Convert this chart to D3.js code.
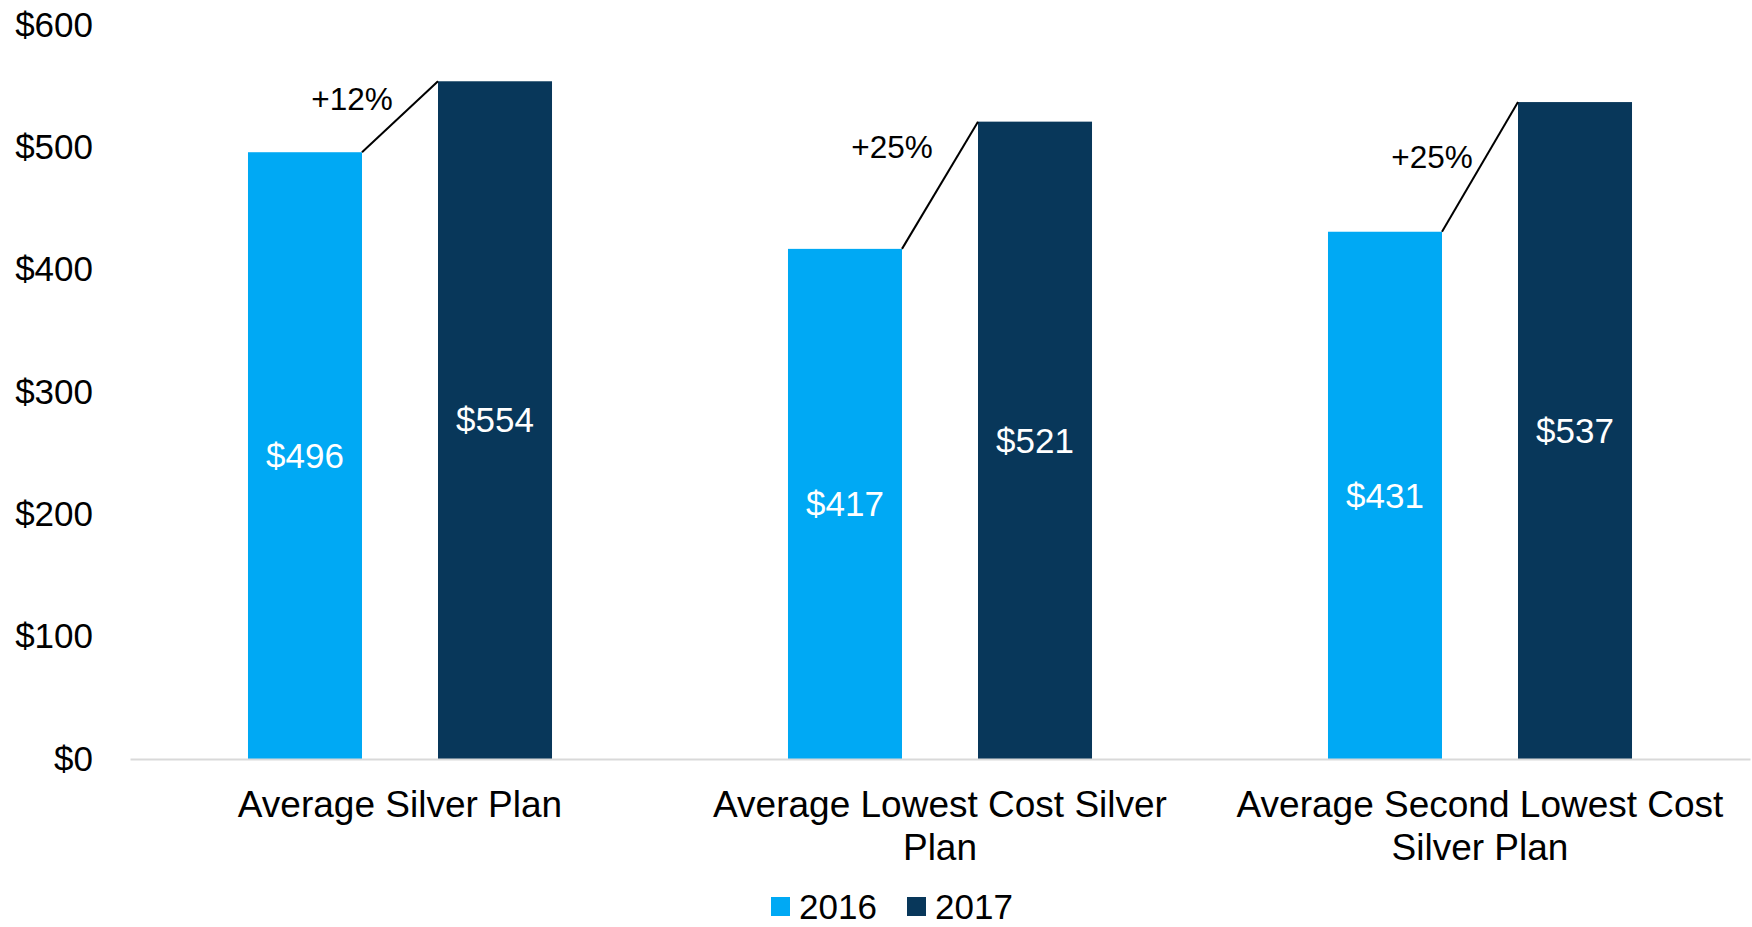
<!DOCTYPE html>
<html>
<head>
<meta charset="utf-8">
<script src="https://cdn.jsdelivr.net/npm/d3@7"></script>
<style>
  html, body { margin: 0; padding: 0; background: #ffffff; }
  svg { display: block; font-family: "Liberation Sans", Arial, sans-serif; }
</style>
</head>
<body>
<svg id="chart" width="1752" height="927"></svg>
<script>
// Monthly silver plan premiums, 2016 vs 2017
const categories = [
  "Average Silver Plan",
  "Average Lowest Cost Silver Plan",
  "Average Second Lowest Cost Silver Plan"
];
const seriesNames = ["2016", "2017"];
const values2016 = [496, 417, 431];
const values2017 = [554, 521, 537];
const changeLabels = ["+12%", "+25%", "+25%"];
const yTicks = [0, 100, 200, 300, 400, 500, 600];

const colors = { "2016": "#00a9f4", "2017": "#08375a" };
// vertical nudge of each change label relative to its connector midpoint
const changeLabelDy = [-18, -38, -10];

const width = 1752, height = 927;
const margin = { top: 25, right: 2, bottom: 168, left: 130 };
const svg = d3.select("#chart");

const rows = categories.map((c, i) => ({
  category: c,
  values: [
    { series: "2016", value: values2016[i] },
    { series: "2017", value: values2017[i] }
  ],
  change: changeLabels[i],
  dy: changeLabelDy[i]
}));

const x0 = d3.scaleBand()
  .domain(categories)
  .range([margin.left, width - margin.right])
  .paddingInner(0.437)
  .paddingOuter(0.2185);

const x1 = d3.scaleBand()
  .domain(seriesNames)
  .range([0, x0.bandwidth()])
  .paddingInner(0.4)
  .paddingOuter(0);

const y = d3.scaleLinear()
  .domain([0, 600])
  .range([height - margin.bottom, margin.top]);

// y axis labels
const yAxis = d3.axisLeft(y)
  .tickValues(yTicks)
  .tickFormat(d => "$" + d)
  .tickSize(0)
  .tickPadding(37);

svg.append("g")
  .attr("transform", `translate(${margin.left},0)`)
  .call(yAxis)
  .call(g => g.select(".domain").remove())
  .call(g => g.selectAll("text")
    .attr("font-size", 35)
    .attr("font-family", "Liberation Sans, Arial, sans-serif")
    .attr("fill", "#000"));

// bars
const groups = svg.append("g")
  .selectAll("g")
  .data(rows)
  .join("g")
  .attr("transform", d => `translate(${x0(d.category)},0)`);

groups.selectAll("rect")
  .data(d => d.values)
  .join("rect")
  .attr("x", d => x1(d.series))
  .attr("y", d => y(d.value))
  .attr("width", x1.bandwidth())
  .attr("height", d => y(0) - y(d.value))
  .attr("fill", d => colors[d.series]);

// value labels centred in each bar
groups.selectAll("text.value")
  .data(d => d.values)
  .join("text")
  .attr("class", "value")
  .attr("x", d => x1(d.series) + x1.bandwidth() / 2)
  .attr("y", d => (y(d.value) + y(0)) / 2)
  .attr("dy", "0.35em")
  .attr("text-anchor", "middle")
  .attr("font-size", 35)
  .attr("fill", "#ffffff")
  .text(d => "$" + d.value);

// connector between bar tops with percentage change
groups.append("line")
  .attr("x1", x1("2016") + x1.bandwidth())
  .attr("y1", d => y(d.values[0].value))
  .attr("x2", x1("2017"))
  .attr("y2", d => y(d.values[1].value))
  .attr("stroke", "#000")
  .attr("stroke-width", 2);

groups.append("text")
  .attr("x", (x1("2016") + x1.bandwidth() + x1("2017")) / 2 - 48)
  .attr("y", d => (y(d.values[0].value) + y(d.values[1].value)) / 2 + d.dy)
  .attr("dy", "0.35em")
  .attr("text-anchor", "middle")
  .attr("font-size", 31.5)
  .attr("fill", "#000")
  .text(d => d.change);

// baseline
const xAxis = d3.axisBottom(x0).tickSize(0).tickFormat("");
svg.append("g")
  .attr("transform", `translate(0,${y(0)})`)
  .call(xAxis)
  .call(g => g.select(".domain").attr("stroke", "#d9d9d9").attr("stroke-width", 2));

// wrapped category labels
function wrap(textSel, maxWidth) {
  textSel.each(function () {
    const text = d3.select(this);
    const words = text.text().split(/\s+/);
    const cx = text.attr("x");
    text.text(null);
    let line = [];
    let tspan = text.append("tspan").attr("x", cx).attr("dy", 0);
    words.forEach(w => {
      line.push(w);
      tspan.text(line.join(" "));
      if (tspan.node().getComputedTextLength() > maxWidth && line.length > 1) {
        line.pop();
        tspan.text(line.join(" "));
        line = [w];
        tspan = text.append("tspan").attr("x", cx).attr("dy", 42.5).text(w);
      }
    });
  });
}

svg.append("g")
  .selectAll("text")
  .data(categories)
  .join("text")
  .attr("x", d => x0(d) + x0.bandwidth() / 2)
  .attr("y", y(0) + 58)
  .attr("text-anchor", "middle")
  .attr("font-size", 37)
  .attr("fill", "#000")
  .text(d => d)
  .call(wrap, x0.step() - 10);

// legend
const legend = svg.append("g").attr("transform", "translate(771,916)");
const item = legend.selectAll("g")
  .data(seriesNames)
  .join("g")
  .attr("transform", (d, i) => `translate(${i * 136},0)`);
item.append("rect")
  .attr("x", 0).attr("y", -19)
  .attr("width", 19).attr("height", 19)
  .attr("fill", d => colors[d]);
item.append("text")
  .attr("x", 28).attr("y", 3)
  .attr("font-size", 35)
  .attr("fill", "#000")
  .text(d => d);
</script>
</body>
</html>
